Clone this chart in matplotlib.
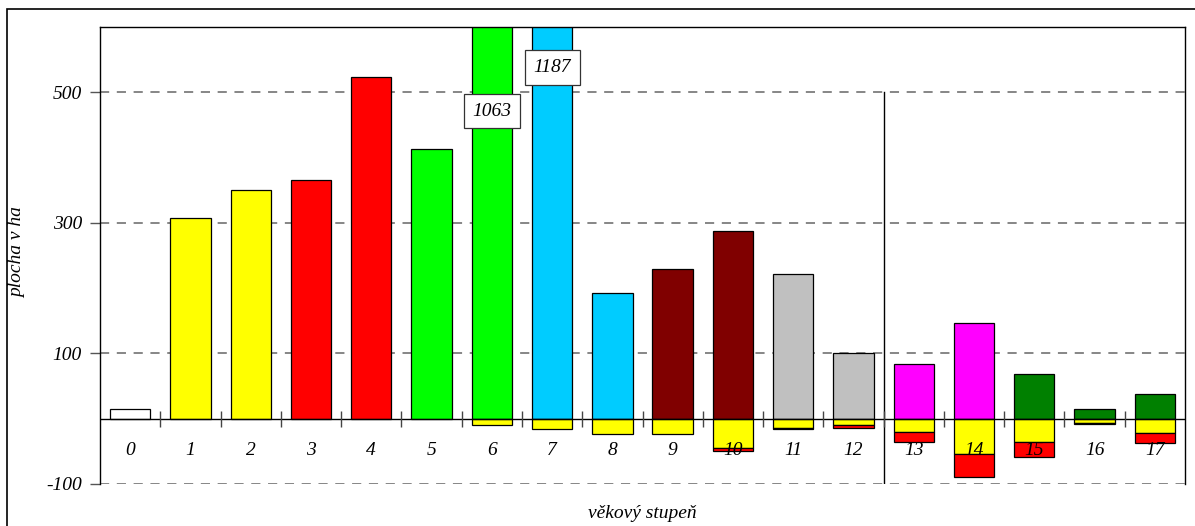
import numpy as np
import matplotlib.pyplot as plt
from matplotlib.patches import Rectangle

plt.rcParams['font.family'] = ['Liberation Serif', 'DejaVu Serif']

# age classes and areas (ha)
categories = [str(i) for i in range(18)]
positive = [15, 307, 350, 365, 523, 413, 1063, 1187, 192, 230, 287, 222, 101, 84, 146, 69, 15, 38]
pos_colors = ['#ffffff', '#ffff00', '#ffff00', '#ff0000', '#ff0000', '#00ff00', '#00ff00',
              '#00ccff', '#00ccff', '#800000', '#800000', '#c0c0c0', '#c0c0c0',
              '#ff00ff', '#ff00ff', '#008000', '#008000', '#008000']
neg_yellow = [0, 0, 0, 0, 0, 0, 10, 16, 23, 23, 45, 14, 9, 20, 54, 35, 7, 22]
neg_red = [0, 0, 0, 0, 0, 0, 0, 0, 0, 0, 5, 1.5, 5, 15, 35, 23, 1.5, 15]
red_colors = ['#ff0000'] * 11 + ['#800000', '#ff0000', '#ff0000', '#ff0000', '#ff0000', '#800000', '#ff0000']
clipped = {6: 1063, 7: 1187}
clip_label_y = {6: 471, 7: 538}

fig = plt.figure(figsize=(11.95, 5.26), dpi=100)
ax = fig.add_axes([100 / 1195, (526 - 484) / 526, 1085 / 1195, (484 - 27) / 526])

x = np.arange(len(categories))
w = 0.67
ax.bar(x, positive, width=w, color=pos_colors, edgecolor='black', linewidth=0.9, zorder=2)
ax.bar(x, [-v for v in neg_yellow], width=w, color='#ffff00', edgecolor='black', linewidth=0.9, zorder=2)
ax.bar(x, [-v for v in neg_red], bottom=[-v for v in neg_yellow], width=w,
       color=red_colors, edgecolor='black', linewidth=0.9, zorder=2)
# hide empty negative bars
for i in range(len(categories)):
    if neg_yellow[i] == 0:
        ax.patches[len(categories) + i].set_visible(False)
    if neg_red[i] == 0:
        ax.patches[2 * len(categories) + i].set_visible(False)

for i, v in clipped.items():
    ax.text(x[i], clip_label_y[i], str(v), ha='center', va='center', fontsize=14,
            style='italic', zorder=5,
            bbox=dict(boxstyle='square,pad=0.45', fc='white', ec='#333333', lw=0.9))

ax.set_xlim(-0.5, len(categories) - 0.5)
ax.set_ylim(-100, 600)
ax.set_yticks([-100, 100, 300, 500])
ax.set_yticklabels(['-100', '100', '300', '500'], fontsize=14, style='italic')
ax.tick_params(axis='y', length=7, width=1, color='#555555', pad=6)
ax.set_xticks([])
for yv in [100, 300, 500, -100]:
    ax.axhline(yv, color='#666666', linestyle=(0, (6, 5)), linewidth=1.1, zorder=1)

ax.axhline(0, color='black', linewidth=1, zorder=3)
ax.plot(x[1:] - 0.5, np.zeros(len(x) - 1), linestyle='none', marker='|',
        markersize=11, color='#444444', markeredgewidth=1, zorder=3)
ax.plot([12.5, 12.5], [-100, 500], color='black', linewidth=1, zorder=1)

for i, c in enumerate(categories):
    ax.text(x[i], -48, c, ha='center', va='center', fontsize=14, style='italic', zorder=6)

for s in ['left', 'top', 'right']:
    ax.spines[s].set_linewidth(1)
ax.spines['bottom'].set_visible(False)

fig.text(18 / 1195, 1 - 253 / 526, 'plocha v ha', rotation=90, ha='center', va='center',
         fontsize=14, style='italic')
fig.text(642 / 1195, 1 - 514 / 526, 'věkový stupeň', ha='center', va='center',
         fontsize=14, style='italic')

fig.patches.append(Rectangle((7 / 1195, -0.01), 1.02, 1 - 9 / 526 + 0.01,
                             transform=fig.transFigure, fill=False, ec='black', lw=1.2))

fig.savefig('out.png', dpi=100)
